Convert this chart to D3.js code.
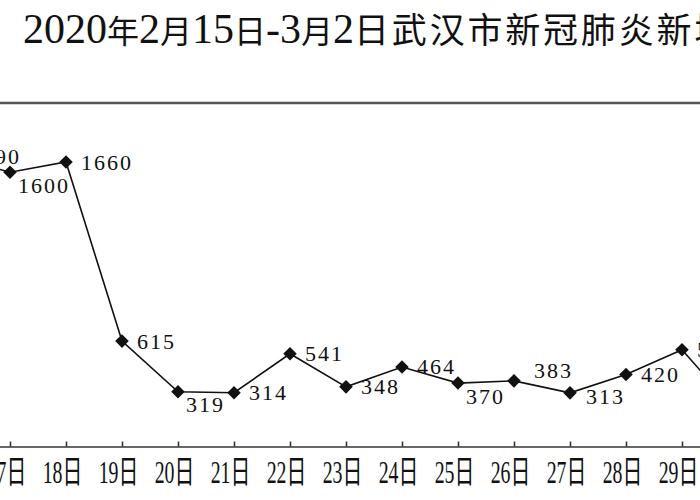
<!DOCTYPE html>
<html>
<head>
<meta charset="utf-8">
<script src="https://cdn.jsdelivr.net/npm/d3@7/dist/d3.min.js"></script>
<style>
  html, body { margin: 0; padding: 0; background: #fff; overflow: hidden; }
  svg { display: block; }
</style>
</head>
<body>
<svg id="chart" width="700" height="500"></svg>
<script>
// ---- data ----
const days = ["15日","16日","17日","18日","19日","20日","21日","22日","23日","24日","25日","26日","27日","28日","29日","1日","2日"];
const cases = [1548, 1690, 1600, 1660, 615, 319, 314, 541, 348, 464, 370, 383, 313, 420, 565, 193, 111];
// where each value label sits relative to its point
const labelSide = ["r","r","br","r","r","br","r","r","r","r","br","ar","rb","r","r","r","r"];
const titleParts = [
  ["2020","num"],["年","han"],["2","num"],["月","han"],["15","num"],["日","han"],
  ["-","num"],["3","num"],["月","han"],["2","num"],["日武汉市新冠肺炎新增确诊病例统计图","tail"]
];

// ---- layout ----
const svg = d3.select("#chart");
const x = d3.scalePoint().domain(days).range([-102, 794]);
const y = d3.scaleLinear().domain([0, 1660]).range([446.5, 162]);

const ink = "#111";

// title
const titleStyle = {
  num:  { family: "'Liberation Serif','DejaVu Serif',serif", size: 42, ls: 0 },
  han:  { family: "'Noto Sans CJK SC',sans-serif", size: 32, ls: 0 },
  tail: { family: "'Noto Sans CJK SC',sans-serif", size: 35, ls: 2.8 }
};
const title = svg.append("text").attr("x", 23).attr("y", 43).attr("fill", ink);
title.selectAll("tspan").data(titleParts).join("tspan")
  .text(d => d[0])
  .attr("font-family", d => titleStyle[d[1]].family)
  .attr("font-size", d => titleStyle[d[1]].size)
  .attr("letter-spacing", d => titleStyle[d[1]].ls);

// top rule of the plot frame
svg.append("line").attr("x1", 0).attr("x2", 700).attr("y1", 103).attr("y2", 103)
  .attr("stroke", "#555").attr("stroke-width", 2.5);

// x axis
const axis = svg.append("g").attr("transform", `translate(0,${y(0)})`)
  .call(d3.axisBottom(x).tickSizeInner(-5).tickSizeOuter(0).tickPadding(0));
axis.select(".domain").attr("stroke", "#333").attr("stroke-width", 1.6);
axis.selectAll(".tick line").attr("stroke", "#333").attr("stroke-width", 1.6);
axis.selectAll(".tick text")
  .attr("fill", ink)
  .attr("font-family", "'Liberation Serif','Noto Sans CJK SC',serif")
  .attr("font-size", 32)
  .attr("dy", null)
  .attr("x", 0)
  .attr("y", 0)
  .attr("text-anchor", "middle")
  .attr("transform", "translate(-4,36.5) scale(0.62,1)");

// line
svg.append("path")
  .datum(cases)
  .attr("fill", "none")
  .attr("stroke", ink)
  .attr("stroke-width", 1.6)
  .attr("d", d3.line().x((d, i) => x(days[i])).y(d => y(d)));

// markers (diamonds)
svg.selectAll(".pt").data(cases).join("path")
  .attr("class", "pt")
  .attr("d", d3.symbol(d3.symbolSquare, 92)())
  .attr("transform", (d, i) => `translate(${x(days[i])},${y(d)}) rotate(45)`)
  .attr("fill", ink);

// value labels
const off = {
  r:  { dx: 15, dy: 0 },
  br: { dx: 8,  dy: 13 },
  rb: { dx: 16, dy: 4 },
  ar: { dx: 20, dy: -10 }
};
svg.selectAll(".val").data(cases).join("text")
  .attr("class", "val")
  .attr("x", (d, i) => x(days[i]) + off[labelSide[i]].dx)
  .attr("y", (d, i) => y(d) + off[labelSide[i]].dy + 7.5)
  .attr("font-family", "'Liberation Serif','DejaVu Serif',serif")
  .attr("font-size", 22)
  .attr("letter-spacing", 2)
  .attr("fill", ink)
  .text(d => d);
</script>
</body>
</html>
